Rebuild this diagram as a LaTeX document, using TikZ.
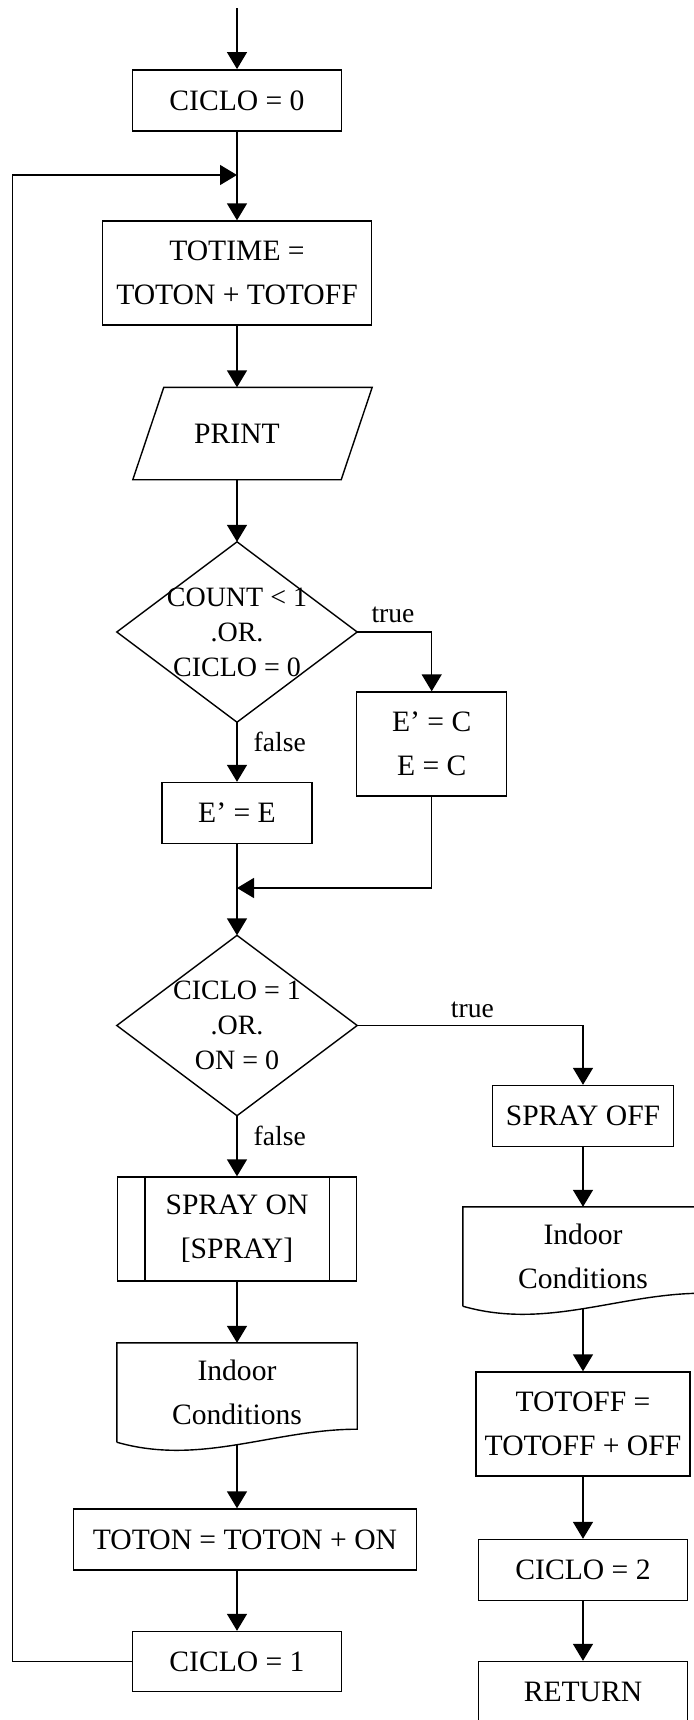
\documentclass[tikz,border=0pt]{standalone}
\usepackage{fontspec}
\setmainfont{Liberation Serif}
\usetikzlibrary{
    arrows.meta,
    positioning,
}

\begin{document}
\begin{tikzpicture}[
    x=0.5pt, y=-0.5pt, line width=0.7pt,
    proc/.style={rectangle, draw, inner sep=0pt, minimum height=30.5pt, align=center, font=\fontsize{14.8}{22}\selectfont},
    tall/.style={proc, minimum height=52pt},
    io/.style={rectangle, inner sep=0pt, minimum width=103.5pt, minimum height=45.5pt, font=\fontsize{14.8}{22}\selectfont},
    decision/.style={rectangle, inner sep=0pt, minimum width=119.5pt, minimum height=89.5pt, align=center, font=\fontsize{14}{17.5}\selectfont},
    docu/.style={rectangle, inner sep=0pt, minimum width=119.5pt, minimum height=49pt, align=center, font=\fontsize{14.8}{22}\selectfont},
    arr/.style={-{Triangle[length=8.5pt, width=10pt]}},
    lbl/.style={font=\fontsize{13.8}{16}\selectfont, inner sep=2pt}
]
    \useasboundingbox (0,0) rectangle (694,1720);

    % left column
    \coordinate (in) at (237,8);
    \node[proc, minimum width=104.5pt] (c0) at (237,100.3) {CICLO = 0};
    \coordinate (jn) at (237,175);
    \node[tall, minimum width=134.5pt] (tot) at (237,273) {TOTIME =\\TOTON + TOTOFF};
    \node[io] (pr) at (237,433.5) {PRINT};
    \node[decision] (dA) at (237,632) {COUNT < 1\\.OR.\\CICLO = 0};
    \node[tall, minimum width=75pt] (ec) at (431.7,744) {E’ = C\\E = C};
    \node[proc, minimum width=75pt] (ee) at (237,813) {E’ = E};
    \coordinate (mg) at (237,888);
    \node[decision] (dB) at (237,1025.5) {CICLO = 1\\.OR.\\ON = 0};
    \node[tall, minimum width=119.5pt] (sp) at (237,1229) {SPRAY ON\\{[SPRAY]}};
    \node[docu] (indl) at (237,1392.5) {Indoor\\Conditions};
    \node[proc, minimum width=171.5pt] (ton) at (245,1539.5) {TOTON = TOTON + ON};
    \node[proc, minimum width=104.5pt, minimum height=30pt] (c1) at (237,1661.5) {CICLO = 1};
    \coordinate (lp) at (12.7,175);

    % right column
    \node[proc, minimum width=90.5pt] (off) at (583,1116) {SPRAY OFF};
    \node[docu] (indr) at (583,1256.5) {Indoor\\Conditions};
    \node[tall, minimum width=107pt] (toff) at (583,1424) {TOTOFF =\\TOTOFF + OFF};
    \node[proc, minimum width=104.5pt] (c2) at (583,1570) {CICLO = 2};
    \node[proc, minimum width=104.5pt] (ret) at (583,1692) {RETURN};

    % outlines of the special shapes
    \draw (pr.south west) -- (pr.south east) -- ([xshift=15.5pt]pr.north east) -- ([xshift=15.5pt]pr.north west) -- cycle;
    \foreach \d in {dA, dB}
        \draw (\d.north) -- (\d.east) -- (\d.south) -- (\d.west) -- cycle;
    \draw ([xshift=14pt]sp.north west) -- ([xshift=14pt]sp.south west)
          ([xshift=-14pt]sp.north east) -- ([xshift=-14pt]sp.south east);
    \foreach \d in {indl, indr}
        \draw (\d.south west) -- (\d.north west) -- (\d.north east) -- ([yshift=6.5pt]\d.south east)
            .. controls ([xshift=-41.8pt, yshift=6.5pt]\d.south east) and ([xshift=41.8pt, yshift=-12pt]\d.south west) .. (\d.south west);

    % connectors
    \draw[arr] (in) -- (c0);
    \draw[arr] (c0) -- (tot);
    \draw[arr] (tot) -- (pr);
    \draw[arr] (pr) -- (dA);
    \draw[arr] (dA.east) -| node[lbl, above=2.5pt, pos=0.24] {true} (ec.north);
    \draw[arr] (dA) -- node[lbl, right=6pt, pos=0.33] {false} (ee);
    \draw[arr] (ec.south) |- (mg);
    \draw[arr] (ee) -- (dB);
    \draw[arr] (dB.east) -| node[lbl, above=1.5pt, pos=0.255] {true} (off.north);
    \draw[arr] (dB) -- node[lbl, right=6pt, pos=0.33] {false} (sp);
    \draw[arr] (sp) -- (indl);
    \draw[arr] ([yshift=-1.25pt]indl.south) -- (indl.south |- ton.north);
    \draw[arr] (c1.north |- ton.south) -- (c1.north);
    \draw[arr] (c1.west) -| (lp) -- (jn);
    \draw[arr] (off) -- (indr);
    \draw[arr] ([yshift=-1.25pt]indr.south) -- (toff.north);
    \draw[arr] (toff) -- (c2);
    \draw[arr] (c2) -- (ret);
\end{tikzpicture}
\end{document}
